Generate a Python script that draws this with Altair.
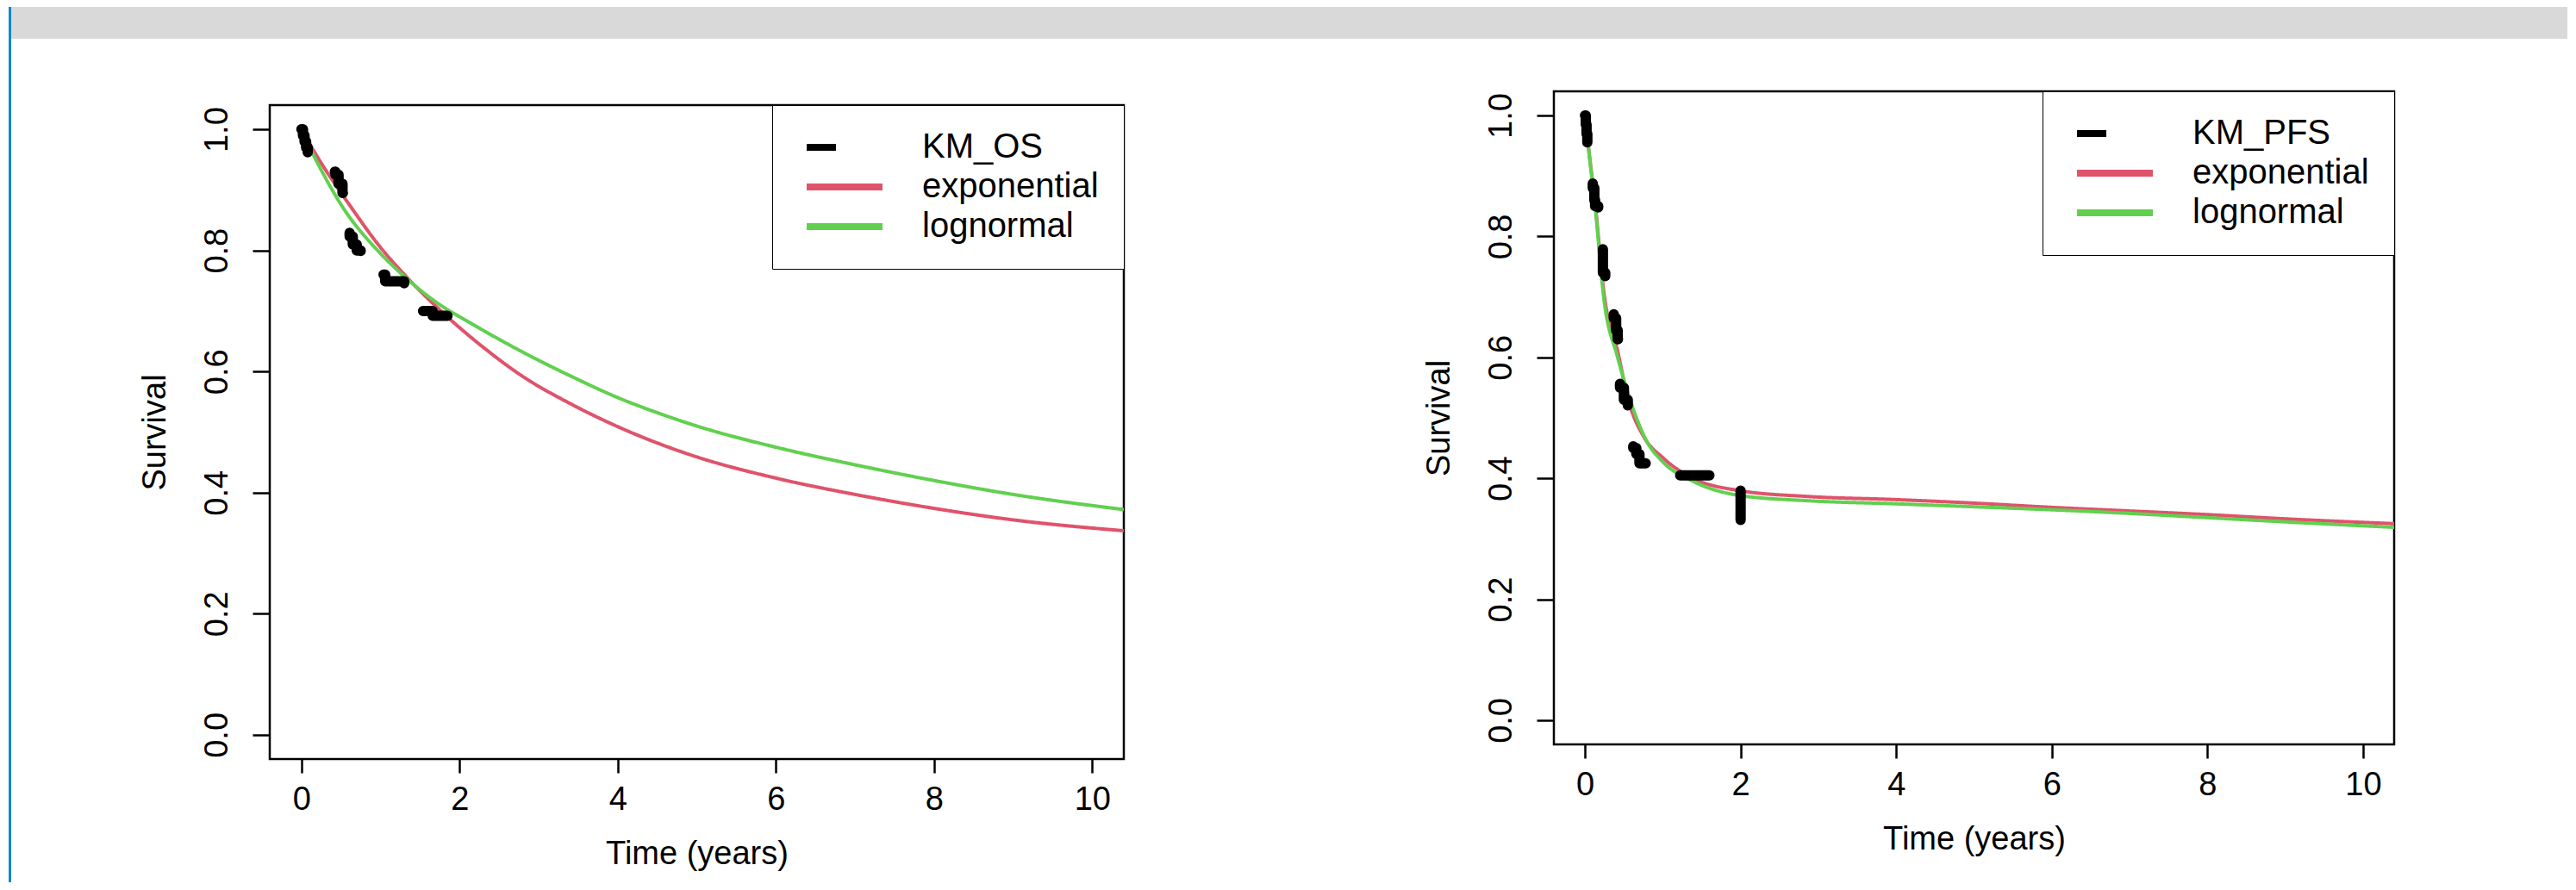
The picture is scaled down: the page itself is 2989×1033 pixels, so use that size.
import altair as alt
import pandas as pd

# ---------------- data ----------------
# Left panel: overall survival
km_os_time = [0, 0.02, 0.04, 0.06, 0.08, 0.10, 0.20, 0.30, 0.43, 0.47, 0.52, 0.56, 0.58, 0.59,
              0.61, 0.65, 0.70, 0.75, 0.79, 0.90, 1.00, 1.06, 1.30, 1.45, 1.66, 2.20]
km_os_surv = [1.0, 0.99, 0.98, 0.97, 0.958, 0.947, 0.94, 0.93, 0.925, 0.91, 0.895, 0.885, 0.877, 0.85,
              0.823, 0.81, 0.80, 0.79, 0.777, 0.77, 0.76, 0.749, 0.712, 0.70, 0.692, 0.692]
exp_os_time = [0, 0.2, 0.62, 1.0, 1.31, 1.79, 2.3, 2.81, 3.4, 4, 4.5, 5, 6, 7, 8, 9, 10.4]
exp_os_surv = [1.0, 0.955, 0.873, 0.805, 0.759, 0.697, 0.64, 0.591, 0.547, 0.509, 0.482, 0.459,
               0.424, 0.397, 0.374, 0.355, 0.337]
logn_os_time = [0, 0.05, 0.19, 0.53, 1.0, 1.31, 1.7, 2.18, 2.8, 3.43, 4, 4.5, 5, 6, 7, 8, 9, 10.4]
logn_os_surv = [1.0, 0.985, 0.948, 0.87, 0.795, 0.756, 0.715, 0.677, 0.632, 0.591, 0.557, 0.532,
                0.51, 0.475, 0.446, 0.42, 0.397, 0.372]

# Right panel: progression-free survival
km_pfs_time = [0, 0.01, 0.02, 0.03, 0.05, 0.06, 0.08, 0.10, 0.12, 0.13, 0.17, 0.20, 0.22, 0.23,
               0.26, 0.30, 0.34, 0.37, 0.40, 0.42, 0.44, 0.45, 0.50, 0.55, 0.60, 0.62, 0.66, 0.70,
               0.79, 1.73, 2.00]
km_pfs_surv = [1.0, 0.985, 0.97, 0.955, 0.94, 0.925, 0.905, 0.88, 0.86, 0.85, 0.835, 0.82, 0.80, 0.74,
               0.72, 0.70, 0.685, 0.665, 0.645, 0.63, 0.60, 0.55, 0.53, 0.505, 0.49, 0.45, 0.44, 0.425,
               0.405, 0.385, 0.29]
exp_pfs_time = [0, 0.06, 0.13, 0.24, 0.42, 0.56, 0.75, 1.01, 1.39, 1.97, 2.86, 3.96, 5, 6, 7, 8, 9, 10.4]
exp_pfs_surv = [1.0, 0.93, 0.855, 0.71, 0.61, 0.528, 0.47, 0.433, 0.40, 0.38, 0.37, 0.365, 0.359,
                0.352, 0.346, 0.34, 0.333, 0.325]
logn_pfs_time = [0, 0.06, 0.13, 0.24, 0.42, 0.65, 0.8, 1.01, 1.39, 1.97, 2.86, 3.96, 5, 6, 7, 8, 9, 10.4]
logn_pfs_surv = [1.0, 0.93, 0.85, 0.70, 0.60, 0.504, 0.46, 0.426, 0.395, 0.372, 0.363, 0.358, 0.353,
                 0.348, 0.342, 0.335, 0.328, 0.319]

x_ticks = [0, 2, 4, 6, 8, 10]
y_ticks = [0.0, 0.2, 0.4, 0.6, 0.8, 1.0]
series_colors = ["#000000", "#DF536B", "#61D04F"]

FONT = "Liberation Sans"
FS = 38
LFS = 40


def make_legend(use_sw):
    kw = dict(
        orient="top-right", offset=0, title=None, padding=29, rowPadding=6,
        symbolType="M-3,0H3", symbolSize=860, symbolStrokeWidth=8, symbolOffset=35,
        labelOffset=70, labelFontSize=LFS, labelFont=FONT, labelColor="black",
        labelLimit=1000, strokeColor="black", fillColor="white",
    )
    if use_sw:
        kw["strokeWidth"] = 2.5
    return alt.Legend(**kw)


def panel(km_t, km_s, km_name, e_t, e_s, l_t, l_s, w, h, use_sw):
    km = pd.DataFrame({"time": km_t, "surv": km_s, "series": km_name})
    curves = pd.concat([
        pd.DataFrame({"time": e_t, "surv": e_s, "series": "exponential"}),
        pd.DataFrame({"time": l_t, "surv": l_s, "series": "lognormal"}),
    ])
    domain = [km_name, "exponential", "lognormal"]
    color = alt.Color("series:N", scale=alt.Scale(domain=domain, range=series_colors),
                      legend=make_legend(use_sw))
    dash = alt.StrokeDash("series:N",
                          scale=alt.Scale(domain=domain, range=[[34, 54], [1, 0], [1, 0]]),
                          legend=make_legend(use_sw))
    x = alt.X("time:Q", title="Time (years)",
              scale=alt.Scale(domain=[-0.4, 10.4], nice=False, zero=False),
              axis=alt.Axis(values=x_ticks, format="d", grid=False, domain=False,
                            tickSize=16, tickWidth=2.5, tickColor="black",
                            labelFontSize=FS, labelFont=FONT, labelColor="black",
                            labelPadding=12, labelFlush=False, labelOverlap=False,
                            titleFontSize=FS, titleFont=FONT, titleFontWeight="normal",
                            titleColor="black", titlePadding=25))
    y = alt.Y("surv:Q", title="Survival",
              scale=alt.Scale(domain=[-0.04, 1.04], nice=False, zero=False),
              axis=alt.Axis(values=y_ticks, format=".1f", grid=False, domain=False,
                            tickSize=20, tickWidth=2.5, tickColor="black",
                            labelAngle=270, labelAlign="center", labelBaseline="bottom",
                            labelFontSize=FS, labelFont=FONT, labelColor="black",
                            labelPadding=22, labelFlush=False, labelOverlap=False,
                            titleFontSize=FS, titleFont=FONT, titleFontWeight="normal",
                            titleColor="black", titlePadding=34))
    fit = alt.Chart(curves).mark_line(strokeWidth=4, interpolate="monotone", clip=True).encode(
        x=x, y=y, color=color, strokeDash=dash)
    kmc = alt.Chart(km).mark_line(strokeWidth=12, interpolate="step-after", strokeCap="round",
                                  strokeJoin="round").encode(
        x=x, y=y, color=color, strokeDash=dash)
    return alt.layer(fit, kmc).properties(width=w, height=h)


def blank(w, h, fill=None):
    df = pd.DataFrame({"v": [0]})
    mark = alt.Chart(df).mark_rect(opacity=1 if fill else 0, color=fill or "white")
    return mark.encode(
        x=alt.value(0), x2=alt.value(w), y=alt.value(0), y2=alt.value(h)
    ).properties(width=w, height=h,
                 view=alt.ViewBackground(stroke="transparent", strokeWidth=0))


INDEP = dict(x="independent", y="independent", color="independent", strokeDash="independent")


def build(use_sw):
    left = panel(km_os_time, km_os_surv, "KM_OS", exp_os_time, exp_os_surv,
                 logn_os_time, logn_os_surv, 991, 759, use_sw)
    right = panel(km_pfs_time, km_pfs_surv, "KM_PFS", exp_pfs_time, exp_pfs_surv,
                  logn_pfs_time, logn_pfs_surv, 975, 758, use_sw)
    left_col = alt.vconcat(blank(10, 1), left, spacing=13).resolve_scale(**INDEP).resolve_legend(
        color="independent", strokeDash="independent")
    row = alt.hconcat(left_col, right, spacing=343).resolve_scale(**INDEP).resolve_legend(
        color="independent", strokeDash="independent")
    panels = alt.hconcat(blank(146, 10), row, spacing=0)
    body = alt.vconcat(blank(2966, 37, "#d9d9d9"), panels, spacing=59)
    ch = alt.hconcat(blank(3, 1016, "#0f88cf"), body, spacing=0).properties(
        padding={"left": 2, "top": 0, "right": 0, "bottom": 0},
        background="white",
    ).configure(font=FONT).configure_view(stroke="black", strokeWidth=2.5)
    return ch


try:
    chart = build(True)
    chart.to_dict()
except Exception:
    chart = build(False)

chart.save("out.html", embed_options={"renderer": "svg", "actions": False})
